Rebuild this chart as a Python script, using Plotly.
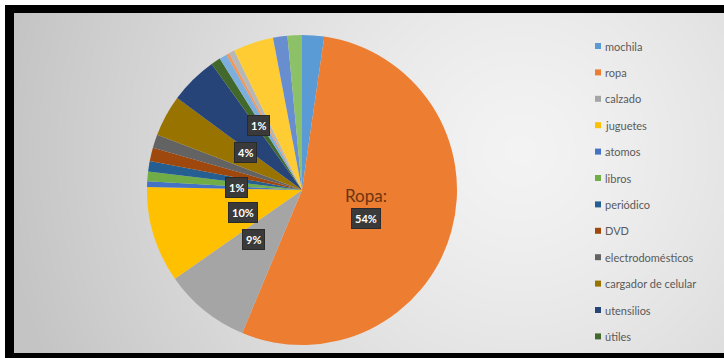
import numpy as np
import plotly.graph_objects as go

# ---- data -------------------------------------------------------------
categorias = [
    "mochila", "ropa", "calzado", "juguetes", "atomos", "libros",
    "periódico", "DVD", "electrodomésticos", "cargador de celular",
    "utensilios", "útiles", "otros 1", "otros 2", "otros 3", "otros 4",
    "otros 5", "otros 6",
]
valores = [2.3, 54, 9, 10, 0.6, 1.0, 1.1, 1.4, 1.4, 4.3, 5.0, 1.0,
           0.8, 0.3, 0.6, 4.2, 1.5, 1.5]
# only the first twelve categories appear in the legend
leyenda = categorias[:12]
# slices that carry a percentage label
etiquetadas = ["ropa", "calzado", "juguetes", "atomos",
               "cargador de celular", "útiles"]

# ---- style ------------------------------------------------------------
colores = [
    "#5B9BD5", "#ED7D31", "#A5A5A5", "#FFC000", "#4472C4", "#70AD47",
    "#255E91", "#9E480E", "#636363", "#997300", "#264478", "#43682B",
    "#7CAFDD", "#F1975A", "#B7B7B7", "#FFCD33", "#698ED0", "#8CC168",
]
W, H = 724, 358
CX, CY, R = 302, 190, 155          # pie centre and radius in pixels
radio_etiqueta = {"ropa": 0.43}    # label distance as a fraction of R
radio_defecto = 0.5
FONT = "Lato, 'Open Sans', sans-serif"


def px(x):
    return x / W


def py(y):
    return 1 - y / H


fig = go.Figure()

# soft radial background inside the black frame
gx = np.arange(14, W + 1, 4)
gy = np.arange(13, 354, 4)
XX, YY = np.meshgrid(gx, gy)
dist = np.hypot(XX - 520, YY - 150) / 520
fondo = 1 - np.clip(dist, 0, 1) ** 1.3
fig.add_trace(go.Heatmap(
    x=gx, y=gy, z=fondo, zmin=0, zmax=1, zsmooth="best",
    colorscale=[[0, "#c4c4c4"], [1, "#f3f3f3"]], showscale=False,
    hoverinfo="skip", xaxis="x", yaxis="y",
))

# the pie itself
fig.add_trace(go.Pie(
    labels=categorias, values=valores, sort=False, direction="clockwise",
    rotation=0, textinfo="none", showlegend=False,
    marker=dict(colors=colores, line=dict(width=0)),
    domain=dict(x=[px(CX - R), px(CX + R)], y=[py(CY + R), py(CY - R)]),
    hovertemplate="%{label}: %{percent}<extra></extra>",
))

# percentage labels placed at each slice's mid angle
total = sum(valores)
anotaciones = []
inicio = 0.0
for nombre, v in zip(categorias, valores):
    ang = v / total * 360
    if nombre in etiquetadas:
        medio = np.radians(inicio + ang / 2)
        d = R * radio_etiqueta.get(nombre, radio_defecto)
        x = CX + d * np.sin(medio)
        y = CY - d * np.cos(medio)
        pct = f"{round(v / total * 100)}%"
        caja = dict(bgcolor="#3a3a3a", bordercolor="#2a2a2a", borderwidth=1,
                    borderpad=3, font=dict(family=FONT, size=11,
                                           color="white"),
                    showarrow=False, xref="paper", yref="paper")
        if nombre == "ropa":
            anotaciones.append(dict(
                x=px(x), y=py(y - 12), text="Ropa:", showarrow=False,
                xref="paper", yref="paper",
                font=dict(family=FONT, size=17, color="#6b3510")))
            anotaciones.append(dict(x=px(x), y=py(y + 11),
                                    text=f"<b>{pct}</b>", **caja))
        else:
            anotaciones.append(dict(x=px(x), y=py(y),
                                    text=f"<b>{pct}</b>", **caja))
    inicio += ang

# frame
formas = [dict(type="rect", xref="paper", yref="paper", x0=px(5), x1=1,
               y0=0, y1=py(5), fillcolor="black", line=dict(width=0),
               layer="below")]

# legend drawn as squares and text
LX, LY0, LDY = 598, 46, 26.4
for i, nombre in enumerate(leyenda):
    yc = LY0 + i * LDY
    formas.append(dict(type="rect", xref="paper", yref="paper",
                       x0=px(LX - 3), x1=px(LX + 3),
                       y0=py(yc + 3), y1=py(yc - 3),
                       fillcolor=colores[i], line=dict(width=0),
                       layer="above"))
    anotaciones.append(dict(x=px(LX + 5), y=py(yc), text=nombre,
                            xanchor="left", yanchor="middle",
                            showarrow=False, xref="paper", yref="paper",
                            font=dict(family=FONT, size=11,
                                      color="#5a5a5a")))

fig.update_layout(
    width=W, height=H, margin=dict(l=0, r=0, t=0, b=0),
    paper_bgcolor="white", plot_bgcolor="rgba(0,0,0,0)",
    xaxis=dict(domain=[px(14), 1], range=[14, W], visible=False,
               fixedrange=True),
    yaxis=dict(domain=[py(353), py(13)], range=[353, 13], visible=False,
               fixedrange=True),
    shapes=formas, annotations=anotaciones,
)

fig.write_html("out.html")
